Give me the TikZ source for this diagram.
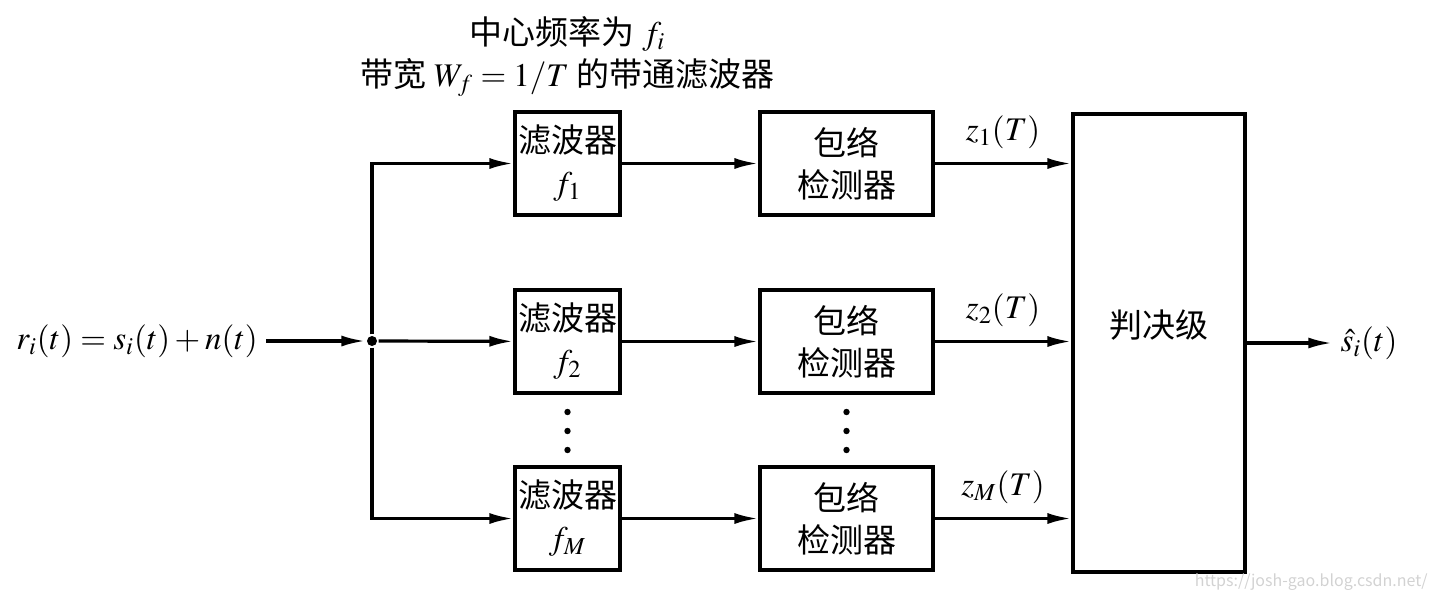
\documentclass[tikz,border=0pt]{standalone}
\usepackage{amsmath,mathptmx}
\usepackage[no-math]{fontspec}
\setmainfont{Noto Sans CJK SC}
\usetikzlibrary{arrows.meta,positioning}

\begin{document}
\begin{tikzpicture}[x=0.5pt,y=-0.5pt,node distance=2cm,on grid,
    >={Latex[length=12pt,width=5.5pt]},line width=1.6pt,
    every node/.style={font=\fontsize{16.5}{21}\selectfont},
    filter/.style={draw,minimum width=52.5pt,minimum height=51.5pt,inner sep=0pt,align=center},
    detector/.style={draw,minimum width=86.5pt,minimum height=51.5pt,inner sep=0pt,align=center},
    decision/.style={draw,minimum width=86pt,minimum height=229pt,inner sep=0pt},
    junction/.style={circle,fill,inner sep=0pt,minimum size=5pt},
    vdots/.style={circle,fill,inner sep=0pt,minimum size=3.2pt}]
  \useasboundingbox (0,0) rectangle (1439,600);
  \node[junction] (j) at (372,341) {};
  \node[anchor=east] (in) at (266,341) {$r_i(t) = s_i(t) + n(t)$};
  \node[filter] (f2) at (567.5,341.5) {滤波器\\$f_2$};
  \node[filter] (f1) [above=89pt of f2] {滤波器\\$f_1$};
  \node[filter] (fM) [below=88.5pt of f2] {滤波器\\$f_M$};
  \node[detector] (e1) [right=139.5pt of f1] {包络\\检测器};
  \node[detector] (e2) [right=139.5pt of f2] {包络\\检测器};
  \node[detector] (eM) [right=139.5pt of fM] {包络\\检测器};
  \node[decision] (dec) at (1159,343) {};
  \node (dlabel) [above=9pt of dec] {判决级};
  \node (out) at (1369,343) {$\hat{s}_i(t)$};
  \node[align=center] (title) [above=53.5pt of f1] {中心频率为 $f_i$\\带宽 $W_f = 1/T$ 的带通滤波器};
  \foreach \k/\d in {1/35.25pt,2/44.75pt,3/54.25pt} {
    \node[vdots] (fdot\k) [below=\d of f2] {};
    \node[vdots] (edot\k) [below=\d of e2] {};
  }
  \node[anchor=south east,text=gray!35,font=\fontsize{8}{9}\selectfont] (mark) at (1436,599) {https://josh-gao.blog.csdn.net/};
  \draw[->] (in) -- (j);
  \draw[->] (j) |- (f1);
  \draw[->] (j) -- (f2);
  \draw[->] (j) |- (fM);
  \draw[->] (f1) -- (e1);
  \draw[->] (f2) -- (e2);
  \draw[->] (fM) -- (eM);
  \draw[->] (e1) -- node[above,yshift=3pt] {$z_1(T)$} (dec.west |- e1);
  \draw[->] (e2) -- node[above,yshift=3pt] {$z_2(T)$} (dec.west |- e2);
  \draw[->] (eM) -- node[above,yshift=3pt] {$z_M(T)$} (dec.west |- eM);
  \draw[->] (dec) -- (out);
\end{tikzpicture}
\end{document}
